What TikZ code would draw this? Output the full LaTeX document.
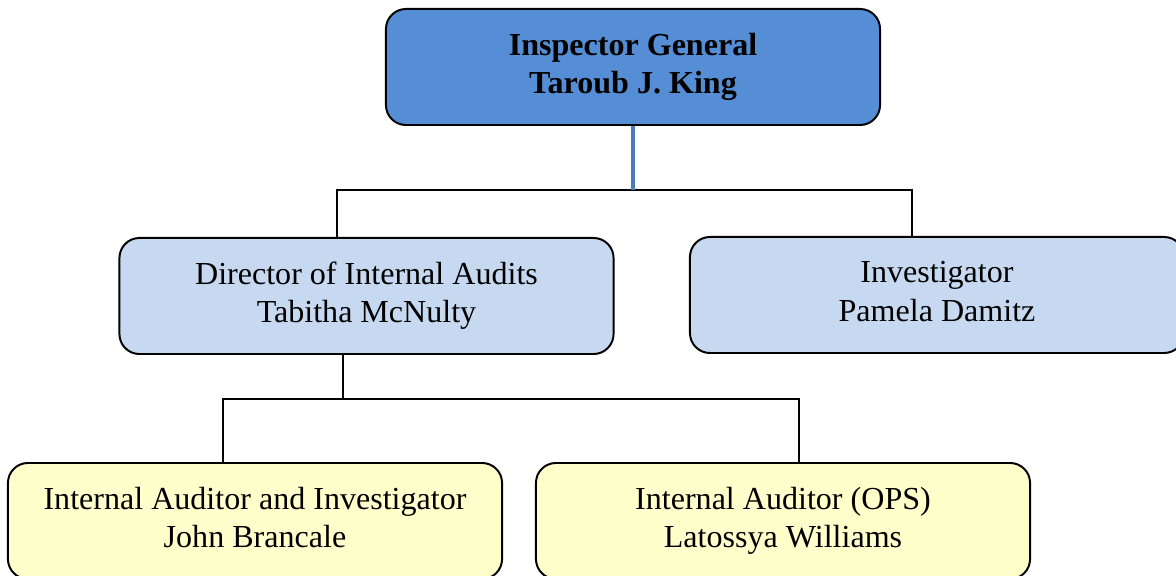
\documentclass[tikz,border=0pt]{standalone}
\usepackage{fontspec}
\setmainfont{Liberation Serif}
\usetikzlibrary{positioning,calc}
\definecolor{igBlue}{HTML}{558ED5}
\definecolor{igLine}{HTML}{4A7EBB}
\definecolor{dirBlue}{HTML}{C6D9F1}
\definecolor{audYellow}{HTML}{FFFFCC}
\tikzset{
  post/.style={rounded corners=0.5cm, draw=black, line width=1.4pt,
              minimum width=12.35cm, minimum height=2.9cm, align=center,
              text depth=5pt, inner sep=4pt,
              font=\fontsize{22.8}{27.2}\selectfont},
  head/.style={post, fill=igBlue, font=\fontsize{22.8}{27.2}\selectfont\bfseries},
  mid/.style={post, fill=dirBlue},
  low/.style={post, fill=audYellow},
  conn/.style={draw=black, line width=1.2pt},
  topconn/.style={draw=igLine, line width=2.4pt},
}

\begin{document}
\begin{tikzpicture}[x=0.025cm, y=-0.025cm]
    \useasboundingbox (0,0) rectangle (1176,576);
    % boxes
    \node[head] (ig) at (633,67) {Inspector General\\Taroub J. King};
    \node[mid] (dir) at (366.5,296) {Director of Internal Audits\\Tabitha McNulty};
    \node[mid] (inv) at (937,295) {Investigator\\Pamela Damitz};
    \node[low] (aud1) at (255,521) {Internal Auditor and Investigator\\John Brancale};
    \node[low] (aud2) at (783,521) {Internal Auditor (OPS)\\Latossya Williams};
    % bus points
    \coordinate (busL) at (337,190);
    \coordinate (busR) at (912,190);
    \coordinate (subL) at (223,399);
    \coordinate (subR) at (799,399);
    \coordinate (subM) at (343,399);
    % connectors
    \draw[conn] (busL |- dir.north) -- (busL) -- (busR) -- (busR |- inv.north);
    \draw[topconn] (ig.south) -- (ig.south |- busL);
    \draw[conn] (subM |- dir.south) -- (subM);
    \draw[conn] (subL |- aud1.north) -- (subL) -- (subR) -- (subR |- aud2.north);
\end{tikzpicture}
\end{document}
